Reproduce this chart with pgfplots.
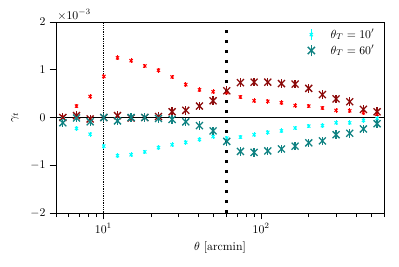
\documentclass[border=0pt]{standalone}
\usepackage{pgfplots}
\pgfplotsset{compat=1.18}
\definecolor{mytealc}{RGB}{15,130,130}
\definecolor{mydarkred}{RGB}{140,10,10}
\definecolor{mycyan}{RGB}{0,255,255}
\definecolor{myred}{RGB}{255,0,0}
\begin{document}
\begin{tikzpicture}
\begin{axis}[
  scale only axis,
  width=278.8pt, height=162.35pt,
  xmode=log, xmin=5, xmax=600,
  ymin=-2, ymax=2,
  ytick={-2,-1,0,1,2},
  scaled y ticks=false,
  tick align=outside,
  xtick pos=bottom, ytick pos=left,
  major tick length=5.5pt, minor tick length=3.5pt,
  every tick/.style={black, line width=0.5pt},
  axis line style={line width=0.6pt},
  every axis x label/.style={at={(rel axis cs:0.5,0)}, anchor=center, yshift=-29.75pt},
  every axis y label/.style={at={(rel axis cs:0,0.5)}, xshift=-34.85pt, anchor=center, rotate=90},
  xlabel={$\theta$ [arcmin]},
  ylabel={$\gamma_t$},
  legend style={draw=none, fill=none, at={(rel axis cs:1,1)}, xshift=-3pt, yshift=-2pt, anchor=north east, row sep=0.5pt},
  legend cell align=left,
  clip=false,
]
\addplot[black, line width=1.4pt, forget plot] coordinates {(5,0) (600,0)};
\addplot[black, line width=0.5pt, dash pattern=on 0.6pt off 0.9pt, forget plot] coordinates {(10,-2) (10,2)};
\addplot[black, line width=2.3pt, dash pattern=on 2.3pt off 6.2pt, forget plot] coordinates {(60,-2) (60,2)};

% theta_T = 10', positive (red)
\addplot[only marks, myred, mark=x, mark size=1.9pt, mark options={line width=0.9pt}, forget plot,
  error bars/.cd, y dir=both, y fixed=0.05, error bar style={line width=0.9pt}, error mark=none]
coordinates {
(5.525,0.01) (6.745,0.24) (8.232,0.44) (10.05,0.86) (12.27,1.25) (14.97,1.19)
(18.28,1.08) (22.31,0.99) (27.23,0.85) (33.24,0.69) (40.58,0.58) (49.53,0.54)
(60.46,0.52) (73.81,0.43) (90.09,0.35) (110.0,0.34) (134.3,0.31) (163.9,0.25)
(200.1,0.24) (244.2,0.20) (298.1,0.15) (363.9,0.14) (444.2,0.10) (542.2,0.07)
};
% theta_T = 10', negative (cyan)
\addplot[only marks, mycyan, mark=x, mark size=1.9pt, mark options={line width=0.9pt},
  legend image code/.code={
    \path (0cm,0cm) (0.9cm,0cm);
    \draw[mycyan, line width=0.9pt] (0.4cm,-4.5pt) -- (0.4cm,4.5pt);
    \draw[mycyan, line width=0.9pt, mark=x, mark size=1.9pt] plot coordinates {(0.4cm,0cm)};},
  error bars/.cd, y dir=both, y fixed=0.05, error bar style={line width=0.9pt}, error mark=none]
coordinates {
(5.525,-0.02) (6.745,-0.23) (8.232,-0.35) (10.05,-0.60) (12.27,-0.80) (14.97,-0.78)
(18.28,-0.72) (22.31,-0.63) (27.23,-0.57) (33.24,-0.52) (40.58,-0.46) (49.53,-0.40)
(60.46,-0.43) (73.81,-0.41) (90.09,-0.36) (110.0,-0.31) (134.3,-0.28) (163.9,-0.22)
(200.1,-0.18) (244.2,-0.17) (298.1,-0.11) (363.9,-0.11) (444.2,-0.06) (542.2,-0.02)
};
\addlegendentry{$\theta_T=10'$}
% theta_T = 60', positive (dark red)
\addplot[only marks, mydarkred, mark=x, mark size=4.2pt, mark options={line width=1.1pt}, forget plot,
  error bars/.cd, y dir=both, y fixed=0.09, error bar style={line width=1.1pt}, error mark=none]
coordinates {
(5.525,0.00) (6.745,0.04) (8.232,-0.03) (10.05,0.00) (12.27,0.04) (14.97,-0.01)
(18.28,0.00) (22.31,0.02) (27.23,0.12) (33.24,0.15) (40.58,0.24) (49.53,0.35)
(60.46,0.56) (73.81,0.73) (90.09,0.74) (110.0,0.74) (134.3,0.71) (163.9,0.70)
(200.1,0.61) (244.2,0.48) (298.1,0.39) (363.9,0.33) (444.2,0.17) (542.2,0.12)
};
% theta_T = 60', negative (teal)
\addplot[only marks, mytealc, mark=x, mark size=4.2pt, mark options={line width=1.1pt},
  legend image code/.code={
    \path (0cm,0cm) (0.9cm,0cm);
    \draw[mytealc, line width=1.1pt] (0.4cm,-5pt) -- (0.4cm,5pt);
    \draw[mytealc, line width=1.1pt, mark=x, mark size=4.4pt] plot coordinates {(0.4cm,0cm)};},
  error bars/.cd, y dir=both, y fixed=0.09, error bar style={line width=1.1pt}, error mark=none]
coordinates {
(5.525,-0.11) (6.745,-0.01) (8.232,-0.09) (10.05,0.00) (12.27,-0.07) (14.97,0.00)
(18.28,0.00) (22.31,-0.02) (27.23,-0.04) (33.24,-0.09) (40.58,-0.17) (49.53,-0.28)
(60.46,-0.50) (73.81,-0.71) (90.09,-0.73) (110.0,-0.70) (134.3,-0.66) (163.9,-0.60)
(200.1,-0.53) (244.2,-0.49) (298.1,-0.36) (363.9,-0.33) (444.2,-0.24) (542.2,-0.13)
};
\addlegendentry{$\theta_T=60'$}
\node[anchor=base west, inner sep=0pt] at ([xshift=1pt, yshift=2.5pt]rel axis cs:0,1) {$\times10^{-3}$};
\end{axis}
\pgfresetboundingbox
\path[use as bounding box] (current axis.south west) ++(-47.6pt,-45.05pt) rectangle ++(339.15pt,226.1pt);
\end{tikzpicture}
\end{document}
